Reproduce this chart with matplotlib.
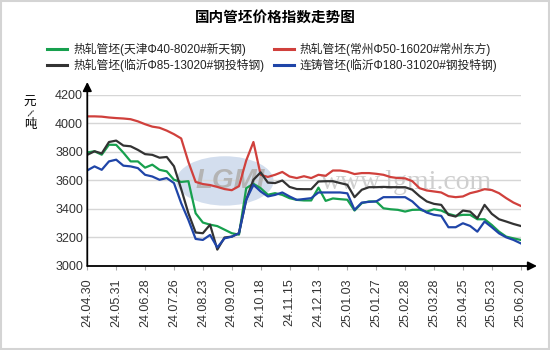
import numpy as np
import matplotlib
matplotlib.use("Agg")
import matplotlib.pyplot as plt
from matplotlib.lines import Line2D
from matplotlib.patches import Ellipse, Rectangle

plt.rcParams['font.family'] = ['Liberation Sans', 'Noto Sans CJK SC', 'DejaVu Sans']

# weekly price index, yuan/ton
date_labels = ["24.04.30", "24.05.31", "24.06.28", "24.07.26", "24.08.23", "24.09.20",
               "24.10.18", "24.11.15", "24.12.13", "25.01.03", "25.01.27", "25.02.28",
               "25.03.28", "25.04.25", "25.05.23", "25.06.20"]

tianjin = [3797, 3805, 3781, 3851, 3850, 3795, 3734, 3734, 3690, 3711,
           3675, 3664, 3605, 3590, 3595, 3370, 3305, 3290, 3280, 3255,
           3230, 3220, 3546, 3577, 3546, 3500, 3511, 3499, 3476, 3464,
           3460, 3460, 3550, 3457, 3474, 3469, 3465, 3389, 3441, 3453,
           3453, 3405, 3398, 3394, 3382, 3394, 3395, 3382, 3398, 3389,
           3366, 3352, 3359, 3359, 3328, 3328, 3288, 3241, 3206, 3194, 3183]

changzhou = [4050, 4050, 4048, 4042, 4038, 4035, 4030, 4015, 3995, 3978,
             3970, 3950, 3925, 3895, 3730, 3590, 3575, 3568, 3555, 3540,
             3532, 3560, 3740, 3870, 3640, 3625, 3640, 3660, 3628, 3617,
             3630, 3617, 3640, 3633, 3670, 3670, 3662, 3645, 3652, 3652,
             3647, 3640, 3624, 3617, 3615, 3595, 3546, 3530, 3523, 3516,
             3490, 3483, 3488, 3511, 3523, 3539, 3533, 3511, 3476, 3445, 3422]

linyi_hot = [3780, 3805, 3790, 3870, 3880, 3845, 3840, 3815, 3785, 3780,
             3760, 3765, 3700, 3540, 3370, 3235, 3230, 3290, 3115, 3200,
             3206, 3230, 3464, 3605, 3657, 3585, 3582, 3600, 3555, 3540,
             3539, 3539, 3593, 3595, 3595, 3582, 3570, 3483, 3535, 3553,
             3553, 3555, 3553, 3553, 3553, 3535, 3490, 3453, 3436, 3429,
             3359, 3347, 3389, 3382, 3335, 3429, 3366, 3328, 3312, 3295, 3281]

linyi_cast = [3671, 3699, 3675, 3734, 3746, 3704, 3699, 3687, 3640, 3628,
              3605, 3617, 3582, 3441, 3323, 3190, 3183, 3218, 3130, 3194,
              3206, 3230, 3464, 3570, 3523, 3488, 3499, 3516, 3488, 3464,
              3470, 3476, 3516, 3516, 3516, 3516, 3510, 3394, 3445, 3450,
              3453, 3483, 3483, 3483, 3483, 3453, 3405, 3375, 3359, 3352,
              3272, 3272, 3300, 3281, 3241, 3312, 3272, 3229, 3201, 3183, 3159]

series = [
    ("热轧管坯(天津Φ40-8020#新天钢)", tianjin, "#17a04e"),
    ("热轧管坯(常州Φ50-16020#常州东方)", changzhou, "#d0403c"),
    ("热轧管坯(临沂Φ85-13020#钢投特钢)", linyi_hot, "#333333"),
    ("连铸管坯(临沂Φ180-31020#钢投特钢)", linyi_cast, "#1f45a8"),
]

fig = plt.figure(figsize=(5.5, 3.5), dpi=100)
fig.patch.set_facecolor("white")
fig.add_artist(Rectangle((0.002, 0.003), 0.996, 0.994, transform=fig.transFigure,
                         fill=False, edgecolor="#d4d4d4", lw=1.5))

ax = fig.add_axes([0.1587, 0.24, 0.788, 0.4886])
ax.set_facecolor("none")

x = np.arange(len(tianjin))
ax.set_xlim(0, len(x) - 1)
ax.set_ylim(3000, 4200)

# watermark behind the lines
ax.add_patch(Ellipse((0.409, 0.483), 0.182, 0.149, transform=fig.transFigure,
                     facecolor="#d3deee", edgecolor="white", lw=2, zorder=0.5))
ax.text(0.418, 0.483, "LGMI", transform=fig.transFigure, ha="center", va="center",
        fontsize=20, fontweight="bold", fontstyle="italic", color="#b4b4b4", zorder=0.6)
ax.text(0.74, 0.478, "www.lgmi.com", transform=fig.transFigure, ha="center", va="center",
        fontsize=20, family="Liberation Serif", color="#cfcfcf", zorder=0.6)

ax.set_yticks(np.arange(3000, 4201, 200))
ax.yaxis.grid(True, color="#d6d6d6", lw=1, zorder=0.4)
ax.set_axisbelow(True)

for name, vals, color in series:
    ax.plot(x, vals, color=color, lw=1.6, solid_joinstyle="round", zorder=2)

ax.set_xticks(np.arange(0, len(x), 4))
ax.set_xticklabels(date_labels, rotation=90, fontsize=9, color="#333333")
ax.tick_params(axis="x", length=3, color="#aaaaaa", pad=6)
ax.tick_params(axis="y", length=0, pad=3, labelsize=9, labelcolor="#333333")

# axes drawn as arrows
for s in ax.spines.values():
    s.set_visible(False)
arrow = dict(arrowstyle="-|>", color="black", lw=1.3, mutation_scale=13, shrinkA=0, shrinkB=0)
ax.annotate("", xy=(1.0376, 0), xytext=(0, 0), xycoords="axes fraction", arrowprops=arrow)
ax.annotate("", xy=(0, 1.076), xytext=(0, 0), xycoords="axes fraction", arrowprops=arrow)

# unit label
fig.text(30 / 550, 1 - 103 / 350, "元", ha="center", va="center", fontsize=9)
fig.text(30 / 550, 1 - 114 / 350, "/", ha="center", va="center", fontsize=7, rotation=-30)
fig.text(30 / 550, 1 - 125 / 350, "吨", ha="center", va="center", fontsize=9)

fig.text(0.5, 1 - 18 / 350, "国内管坯价格指数走势图", ha="center", va="center",
         fontsize=10.5, fontweight="bold")

# legend in two columns
legend_pos = [(47, 49), (274, 49), (47, 65), (274, 65)]
for (name, vals, color), (lx, ly) in zip(series, legend_pos):
    yy = 1 - ly / 350
    fig.add_artist(Line2D([lx / 550, (lx + 20) / 550], [yy, yy], color=color, lw=2.2,
                          transform=fig.transFigure))
    fig.text((lx + 26) / 550, yy, name, ha="left", va="center", fontsize=8.5, color="#222222")

fig.savefig("out.png", dpi=100)
